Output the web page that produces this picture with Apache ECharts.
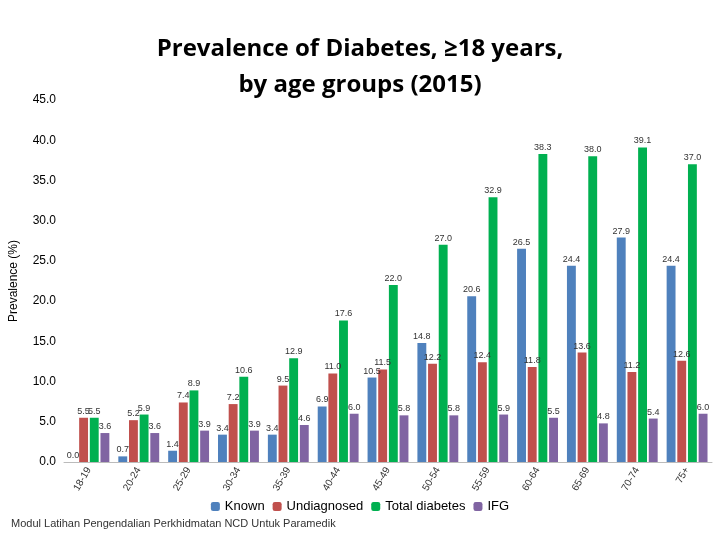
<!DOCTYPE html>
<html><head><meta charset="utf-8">
<script src="https://cdn.jsdelivr.net/npm/echarts@6/dist/echarts.min.js"></script>
<style>html,body{margin:0;padding:0;background:#fff}#c{width:720px;height:540px}</style>
</head><body><div id="c"></div>
<script>
const categories = ['18-19','20-24','25-29','30-34','35-39','40-44','45-49','50-54','55-59','60-64','65-69','70-74','75+'];
const known = [0.0,0.7,1.4,3.4,3.4,6.9,10.5,14.8,20.6,26.5,24.4,27.9,24.4];
const undiagnosed = [5.5,5.2,7.4,7.2,9.5,11.0,11.5,12.2,12.4,11.8,13.6,11.2,12.6];
const totalDiabetes = [5.5,5.9,8.9,10.6,12.9,17.6,22.0,27.0,32.9,38.3,38.0,39.1,37.0];
const ifg = [3.6,3.6,3.9,3.9,4.6,6.0,5.8,5.8,5.9,5.5,4.8,5.4,6.0];
const yTicks = {min:0,max:45,interval:5};

const lbl = {show:true,position:'top',fontSize:9,color:'#333',distance:2,formatter:p=>p.value.toFixed(1)};
function s(name,data,color){return {name,type:'bar',data,itemStyle:{color},label:lbl,barGap:'20%',barCategoryGap:'18%'};}
const chart = echarts.init(document.getElementById('c'));
chart.setOption({
  title:[{text:'Prevalence of Diabetes, ≥18 years,\nby age groups (2015)',left:'center',top:26,textStyle:{fontSize:24,fontWeight:'bold',color:'#000',fontFamily:'Open Sans',lineHeight:36}},
         {text:'Modul Latihan Pengendalian Perkhidmatan NCD Untuk Paramedik',left:6,bottom:6,textStyle:{fontSize:11,fontWeight:'normal',color:'#333'}}],
  legend:{bottom:22,left:'center',itemWidth:9,itemHeight:9,textStyle:{fontSize:13,color:'#000'},data:['Known','Undiagnosed','Total diabetes','IFG']},
  grid:{left:62,right:8,top:100,bottom:78},
  xAxis:{type:'category',data:categories,axisTick:{show:false},axisLine:{lineStyle:{color:'#bbb'}},
    axisLabel:{rotate:60,fontSize:10,color:'#333',margin:6}},
  yAxis:{type:'value',min:yTicks.min,max:yTicks.max,interval:yTicks.interval,
    name:'Prevalence (%)',nameLocation:'middle',nameGap:44,nameTextStyle:{fontSize:12,color:'#000'},
    splitLine:{show:false},axisLine:{show:false},axisTick:{show:false},
    axisLabel:{fontSize:12,color:'#000',formatter:v=>v.toFixed(1)}},
  series:[s('Known',known,'#4f81bd'),s('Undiagnosed',undiagnosed,'#c0504d'),s('Total diabetes',totalDiabetes,'#00b050'),s('IFG',ifg,'#8064a2')]
});
</script></body></html>
